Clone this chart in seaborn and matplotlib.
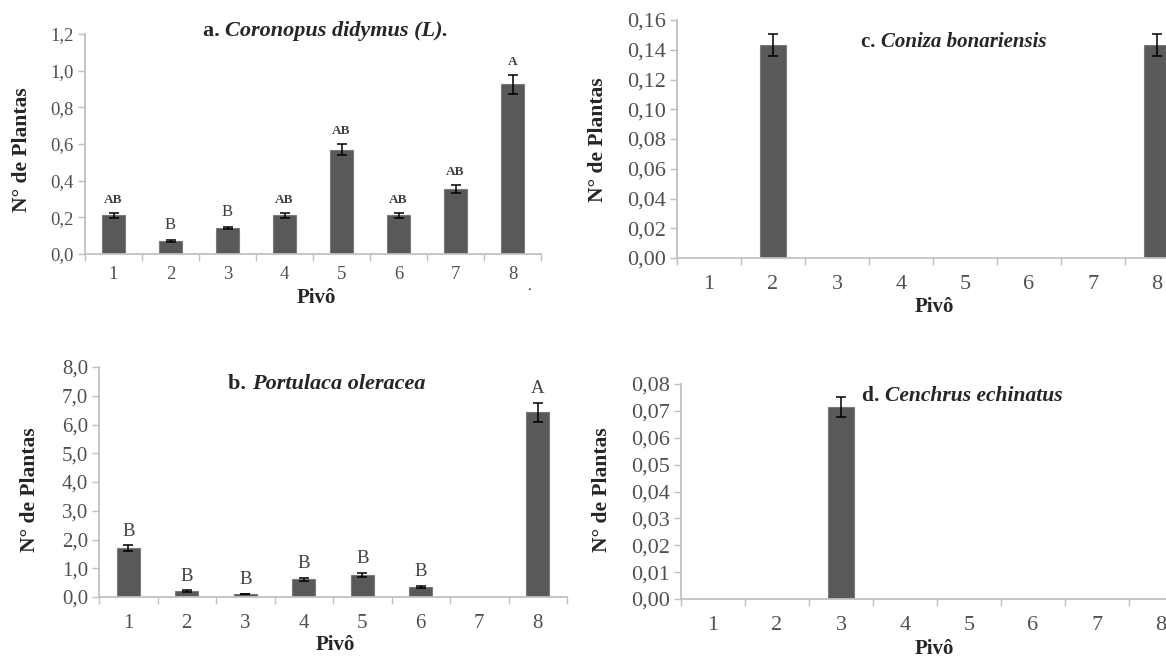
import numpy as np
import matplotlib
matplotlib.use("Agg")
import matplotlib.pyplot as plt
from matplotlib.ticker import FixedLocator
from matplotlib.text import Annotation
import seaborn as sns

# ---- data -------------------------------------------------------------
pivots = ["1", "2", "3", "4", "5", "6", "7", "8"]

coronopus_mean = [0.21, 0.07, 0.14, 0.21, 0.57, 0.21, 0.355, 0.925]
coronopus_err = [0.015, 0.005, 0.005, 0.015, 0.03, 0.015, 0.02, 0.05]
coronopus_letters = ["AB", "B", "B", "AB", "AB", "AB", "AB", "A"]

portulaca_mean = [1.70, 0.20, 0.10, 0.62, 0.78, 0.35, 0.0, 6.42]
portulaca_err = [0.10, 0.03, 0.01, 0.05, 0.07, 0.04, 0.0, 0.33]
portulaca_letters = ["B", "B", "B", "B", "B", "B", "", "A"]

coniza_mean = [0.0, 0.143, 0.0, 0.0, 0.0, 0.0, 0.0, 0.143]
coniza_err = [0.0, 0.0074, 0.0, 0.0, 0.0, 0.0, 0.0, 0.0074]

cenchrus_mean = [0.0, 0.0, 0.0714, 0.0, 0.0, 0.0, 0.0, 0.0]
cenchrus_err = [0.0, 0.0, 0.0037, 0.0, 0.0, 0.0, 0.0, 0.0]

yticks_a = [0.0, 0.2, 0.4, 0.6, 0.8, 1.0, 1.2]
yticks_b = [0.0, 1.0, 2.0, 3.0, 4.0, 5.0, 6.0, 7.0, 8.0]
yticks_c = [0.00, 0.02, 0.04, 0.06, 0.08, 0.10, 0.12, 0.14, 0.16]
yticks_d = [0.00, 0.01, 0.02, 0.03, 0.04, 0.05, 0.06, 0.07, 0.08]

# ---- style ------------------------------------------------------------
sns.set_theme(style="white")
plt.rcParams["font.family"] = ["Liberation Serif", "DejaVu Serif"]

BAR = "#595959"
SPINE = "#c0c0c0"
TICKTXT = "#505050"

W, H = 1166, 660
fig = plt.figure(figsize=(W / 100, H / 100), dpi=100)


def px_axes(left, right, top, bottom):
    return fig.add_axes([left / W, 1 - bottom / H, (right - left) / W, (bottom - top) / H])


def panel(ax, mean, err, yticks, decimals, tick_fs, xpad, letters=None,
          letter_fs=None, letter_bold=None, letter_off=4):
    sns.barplot(x=pivots, y=mean, color=BAR, width=0.4, saturation=1,
                edgecolor="#7a7a7a", linewidth=0.8, ax=ax)
    idx = [i for i, e in enumerate(err) if e > 0]
    ax.errorbar(idx, [mean[i] for i in idx], yerr=[err[i] for i in idx],
                fmt="none", ecolor="black", elinewidth=1.1, capsize=3.5, capthick=1.1)
    if letters:
        for i, lab in enumerate(letters):
            if not lab:
                continue
            ax.annotate(lab, xy=(i, mean[i] + err[i]), xytext=(0, letter_off),
                        textcoords="offset points", ha="center", va="bottom",
                        fontsize=letter_fs[i], fontweight=letter_bold[i],
                        color="#404040")
    ax.set_xlim(-0.5, 7.5)
    ax.set_ylim(yticks[0], yticks[-1])
    ax.set_yticks(yticks)
    ax.set_yticklabels([f"{v:.{decimals}f}".replace(".", ",") for v in yticks],
                       fontsize=tick_fs, color=TICKTXT)
    ax.set_xticks(range(len(pivots)))
    ax.set_xticklabels(pivots, fontsize=tick_fs, color=TICKTXT)
    ax.xaxis.set_minor_locator(FixedLocator(np.arange(-0.5, 8.0, 1.0)))
    ax.tick_params(axis="x", which="major", length=0, pad=xpad)
    ax.tick_params(axis="x", which="minor", length=5, width=1, color=SPINE,
                   direction="out", bottom=True)
    ax.tick_params(axis="y", which="major", length=5, width=1, color=SPINE,
                   direction="out", left=True, pad=3)
    for side in ("top", "right"):
        ax.spines[side].set_visible(False)
    for side in ("left", "bottom"):
        ax.spines[side].set_color(SPINE)
        ax.spines[side].set_linewidth(1.3)
    ax.set_xlabel("")
    ax.set_ylabel("")
    ax.grid(False)


def title(x_px, y_px, letter, species, fs):
    t1 = fig.text(x_px / W, 1 - y_px / H, letter + " ", fontsize=fs,
                  fontweight="bold", ha="left", va="center")
    fig.add_artist(Annotation(species, xy=(1, 0), xycoords=t1, va="bottom",
                              ha="left", fontsize=fs, fontweight="bold",
                              fontstyle="italic"))


def ylabel(x_px, y_px, fs=15.5):
    fig.text(x_px / W, 1 - y_px / H, "N° de Plantas", rotation=90, fontsize=fs,
             fontweight="bold", ha="center", va="center")


def xlabel(x_px, y_px, fs=15):
    fig.text(x_px / W, 1 - y_px / H, "Pivô", fontsize=fs, fontweight="bold",
             ha="center", va="center")


# a. Coronopus didymus
ax_a = px_axes(85, 541, 34, 254)
panel(ax_a, coronopus_mean, coronopus_err, yticks_a, 1, 13.5, 9,
      coronopus_letters,
      [9.5 if l != "B" else 12 for l in coronopus_letters],
      ["bold" if l != "B" else "normal" for l in coronopus_letters], letter_off=5)
title(203, 31, "a.", "Coronopus didymus (L).", 16)
ylabel(22, 150)
xlabel(316, 298)
fig.text(530 / W, 1 - 286 / H, ".", fontsize=11, ha="center", va="center")

# b. Portulaca oleracea
ax_b = px_axes(99, 567, 367, 597)
panel(ax_b, portulaca_mean, portulaca_err, yticks_b, 1, 15, 12,
      portulaca_letters, [13.5] * 8, ["normal"] * 8, letter_off=4)
title(228, 384, "b.", "Portulaca oleracea", 16)
ylabel(30, 490)
xlabel(335, 645)

# c. Coniza bonariensis
ax_c = px_axes(677, 677 + 512, 20, 258)
panel(ax_c, coniza_mean, coniza_err, yticks_c, 2, 16, 12)
title(861, 42, "c.", "Coniza bonariensis", 15)
ylabel(598, 140)
xlabel(934, 307)

# d. Cenchrus echinatus
ax_d = px_axes(681, 681 + 512, 384, 599)
panel(ax_d, cenchrus_mean, cenchrus_err, yticks_d, 2, 16, 12)
title(862, 396, "d.", "Cenchrus echinatus", 15.5)
ylabel(602, 490)
xlabel(934, 649)

fig.savefig("out.png", dpi=100, facecolor="white")
